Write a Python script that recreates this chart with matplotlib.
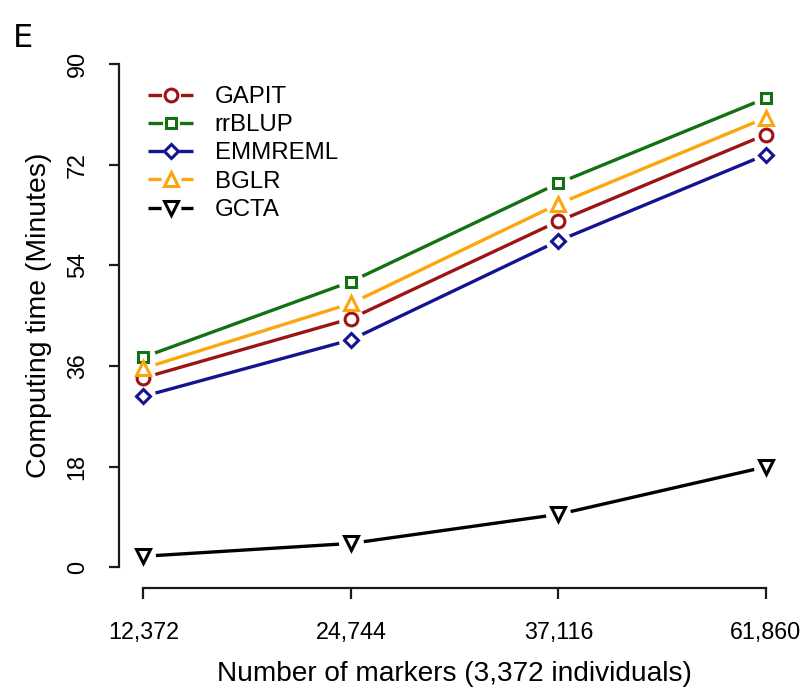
import matplotlib
matplotlib.use("Agg")
import matplotlib.pyplot as plt
from matplotlib.lines import Line2D
from matplotlib.legend_handler import HandlerTuple

plt.rcParams["font.family"] = ["Liberation Sans", "DejaVu Sans"]

# Computing time (minutes) by number of markers, 3,372 individuals
marker_labels = ["12,372", "24,744", "37,116", "61,860"]
gapit = [33.9, 44.5, 61.9, 77.4]
rrblup = [37.6, 51.1, 68.7, 83.9]
emmreml = [30.6, 40.7, 58.4, 73.8]
bglr = [35.6, 47.2, 65.0, 80.4]
gcta = [2.0, 4.3, 9.5, 18.0]

y_ticks = [0, 18, 36, 54, 72, 90]

series = [
    ("GAPIT", gapit, "#9e1414", "o", 9.2),
    ("rrBLUP", rrblup, "#127212", "s", 7.8),
    ("EMMREML", emmreml, "#141490", "D", 6.8),
    ("BGLR", bglr, "#fba60c", "^", 9.8),
    ("GCTA", gcta, "black", "v", 9.8),
]

fig = plt.figure(figsize=(8.09, 6.90), dpi=100)
ax = fig.add_axes([0.1466, 0.1484, 0.8310, 0.7880])

x = list(range(1, len(marker_labels) + 1))
lw = 2.4
mew = 2.2
handles = []
for name, vals, color, mk, ms in series:
    # connecting line, white halo (gap around each point), open marker
    ax.plot(x, vals, color=color, lw=lw, zorder=2, solid_capstyle="butt")
    ax.plot(x, vals, ls="none", marker="o", ms=18, mfc="white",
            mec="none", zorder=3)
    ax.plot(x, vals, ls="none", marker=mk, ms=ms, mfc="white",
            mec=color, mew=mew, zorder=4)
    # legend key: line with a small gap around the marker
    h_line = Line2D([], [], color=color, lw=lw, solid_capstyle="butt")
    h_halo = Line2D([], [], ls="none", marker="o", ms=ms + 4.5, mfc="white", mec="none")
    h_pt = Line2D([], [], ls="none", marker=mk, ms=ms, mfc="white", mec=color, mew=mew)
    handles.append((h_line, h_halo, h_pt))

ax.set_xlim(0.88, 4.12)
ax.set_ylim(-3.6, 93.6)

ax.set_xticks(x)
ax.set_xticklabels(marker_labels)
ax.set_yticks(y_ticks)
ax.set_yticklabels([str(v) for v in y_ticks], rotation=90, va="center")

for side in ("top", "right"):
    ax.spines[side].set_visible(False)
ax.spines["left"].set_bounds(0, 90)
ax.spines["bottom"].set_bounds(1, 4)
for side in ("left", "bottom"):
    ax.spines[side].set_linewidth(1.6)
    ax.spines[side].set_color("#1a1a1a")

ax.tick_params(axis="x", length=8, width=1.6, color="#1a1a1a", labelsize=16.8, pad=16)
ax.tick_params(axis="y", length=7.5, width=1.6, color="#1a1a1a", labelsize=16.8, pad=14)

ax.set_xlabel("Number of markers (3,372 individuals)", fontsize=20.2)
ax.xaxis.set_label_coords(0.5, -0.1359)
ax.set_ylabel("Computing time (Minutes)", fontsize=20.4)
ax.yaxis.set_label_coords(-0.0998, 0.5)

ax.legend(handles, [s[0] for s in series], loc="upper left",
          bbox_to_anchor=(0.0437, 0.9226), frameon=False, fontsize=17.3,
          borderpad=0, borderaxespad=0, handlelength=1.875, handletextpad=0.9,
          labelspacing=0.26, handler_map={tuple: HandlerTuple(ndivide=1, pad=0)})

fig.text(13 / 809, 1 - 47 / 690, "E", fontsize=23, family="DejaVu Sans",
         ha="left", va="baseline")

fig.savefig("out.png", dpi=100, facecolor="white")
